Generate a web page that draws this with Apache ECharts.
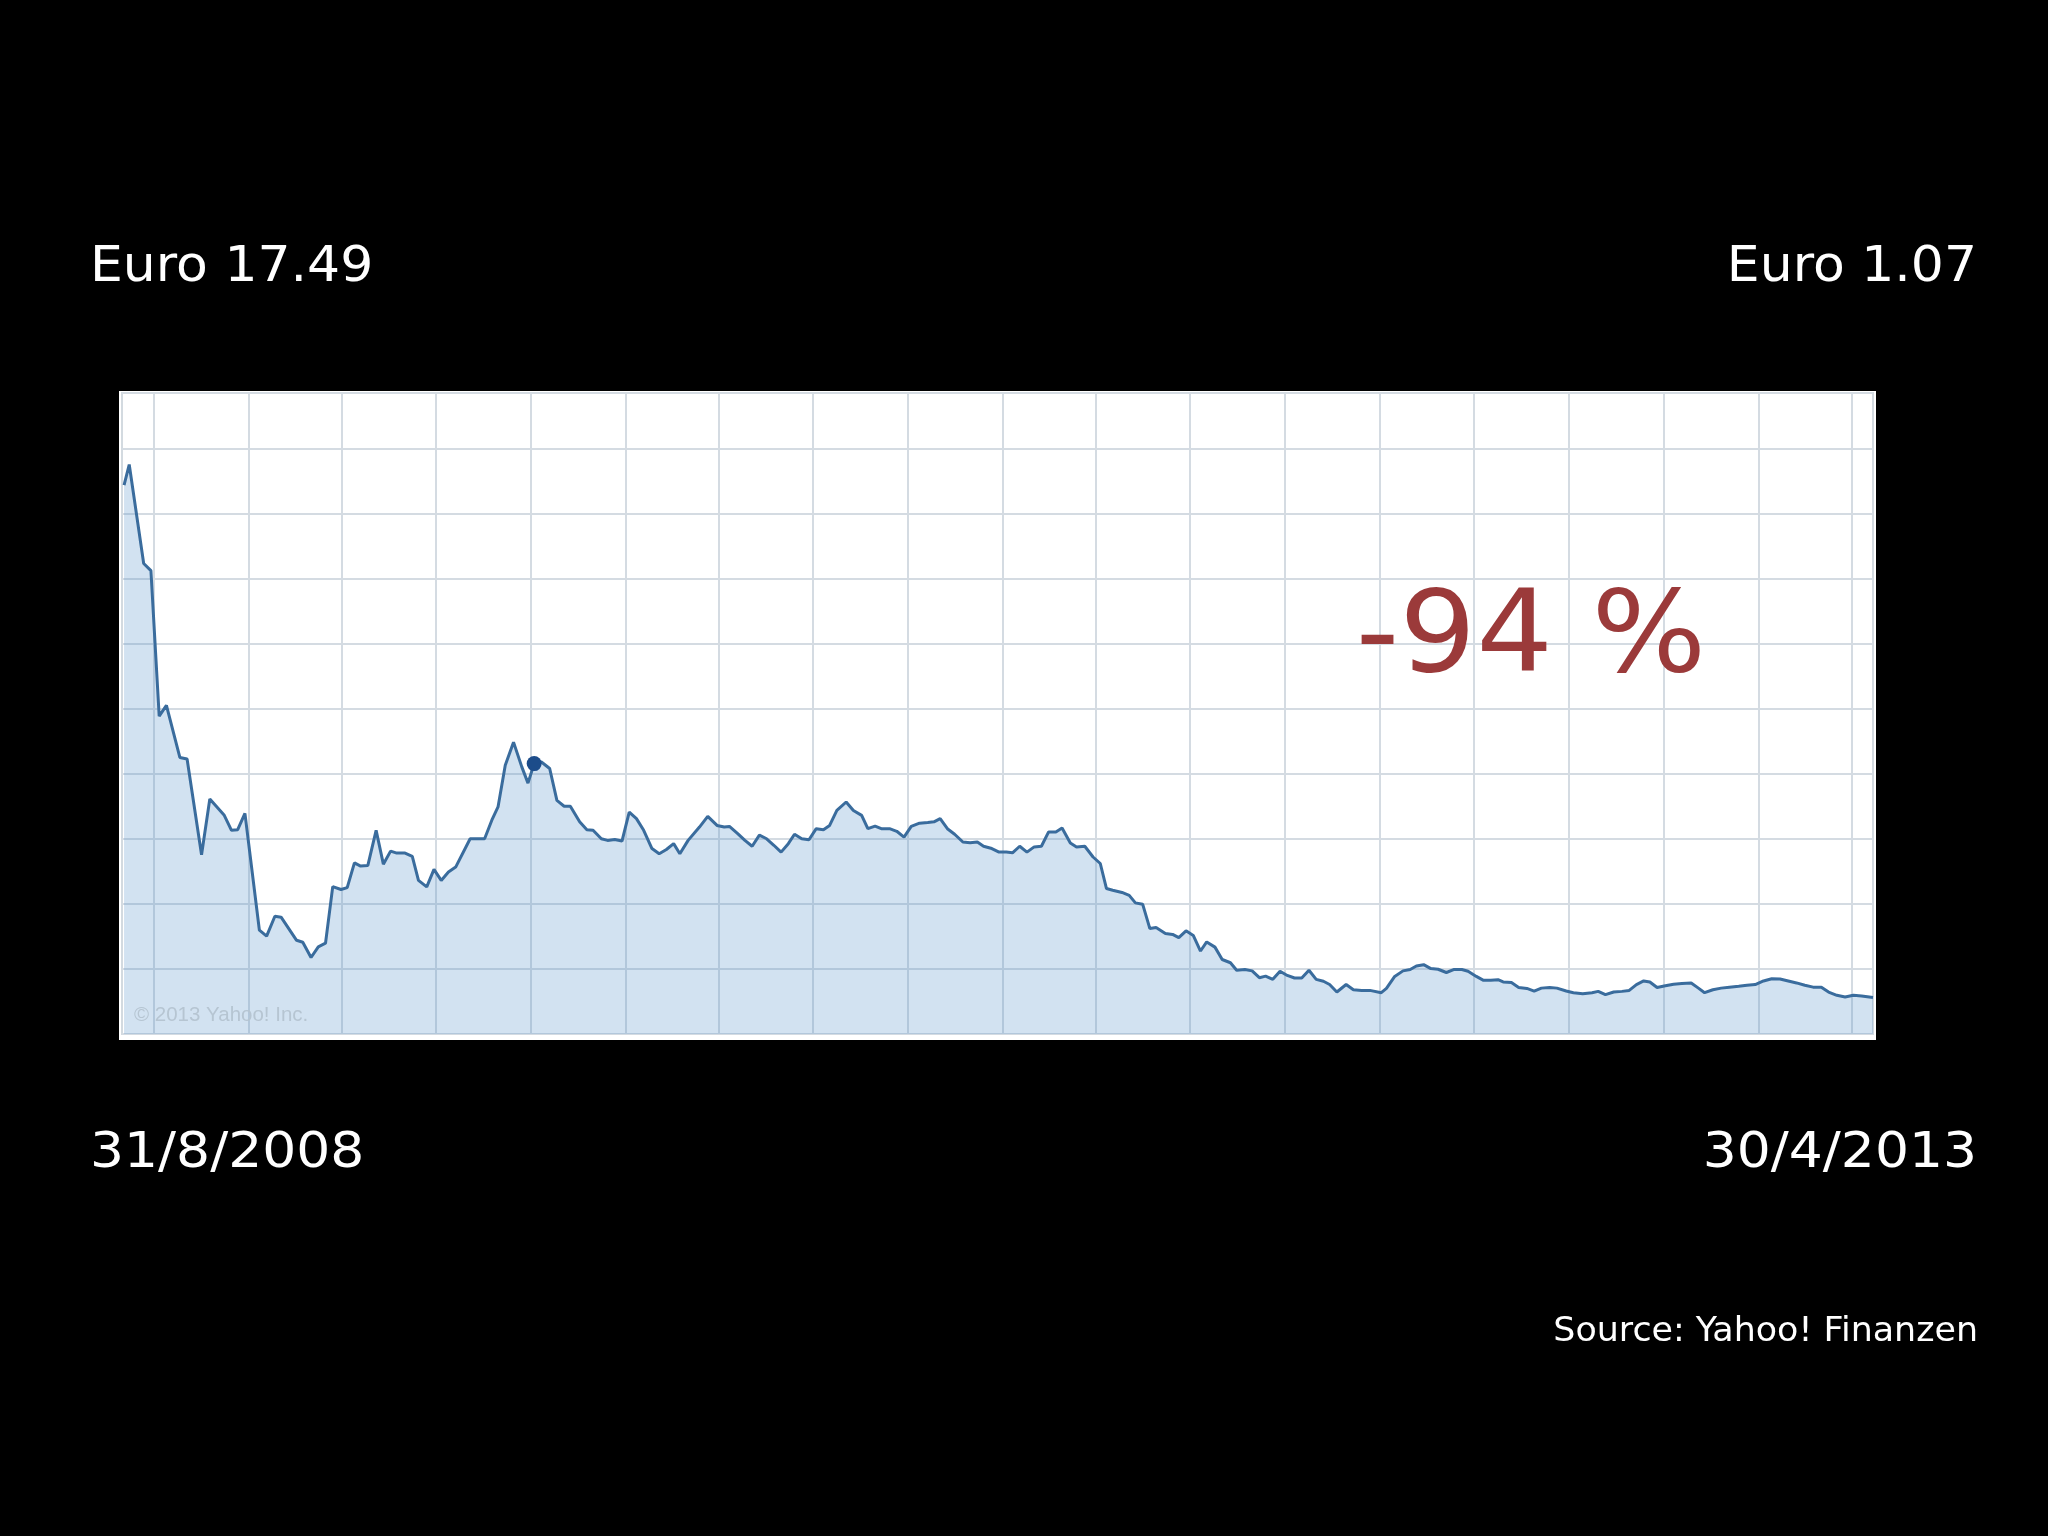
<!DOCTYPE html>
<html>
<head>
<meta charset="utf-8">
<script src="https://cdn.jsdelivr.net/npm/echarts@6/dist/echarts.min.js"></script>
<style>
html,body{margin:0;padding:0;background:#000;}
#chart{width:2048px;height:1536px;}
</style>
</head>
<body>
<div id="chart"></div>
<script>
// Days since 31/8/2008 for each weekly-ish price point
const days = [2,7,21,28,36,43,56,63,77,85,
  99,106,112,119,133,140,148,154,169,175,
  183,190,197,204,212,218,225,231,238,246,
  253,260,266,274,281,287,295,302,309,316,
  323,337,351,358,364,371,379,387,393,399,
  406,414,421,428,434,443,450,456,464,470,
  477,484,491,498,505,513,520,527,534,540,
  548,559,567,576,583,588,596,603,610,617,
  624,631,638,645,651,658,665,672,679,685,
  692,701,708,716,722,729,735,743,750,757,
  764,772,780,786,792,799,806,814,821,828,
  834,842,849,856,862,869,876,883,890,897,
  904,910,918,924,932,940,947,953,959,968,
  975,981,988,995,1001,1010,1017,1023,1030,1037,
  1044,1050,1058,1065,1073,1079,1087,1094,1101,1107,
  1114,1121,1128,1135,1142,1149,1156,1163,1169,1176,
  1185,1192,1200,1208,1219,1224,1232,1240,1247,1253,
  1260,1267,1274,1282,1289,1297,1303,1311,1318,1325,
  1332,1337,1345,1352,1360,1367,1374,1382,1389,1398,
  1405,1414,1423,1429,1436,1444,1452,1459,1466,1473,
  1479,1486,1494,1502,1510,1519,1526,1532,1540,1548,
  1556,1565,1573,1581,1589,1597,1605,1613,1621,1629,
  1637,1645,1652,1660,1668,1676,1684,1695];

// Share price in Euro
const prices = [16.87,17.50,14.46,14.24,9.77,10.10,8.50,8.45,5.51,7.22,
  6.72,6.26,6.28,6.78,3.19,3.01,3.62,3.59,2.88,2.82,
  2.35,2.68,2.79,4.53,4.44,4.50,5.26,5.16,5.18,6.26,
  5.22,5.62,5.56,5.56,5.46,4.72,4.52,5.06,4.72,4.98,
  5.13,6.00,6.00,6.57,6.98,8.26,8.97,8.21,7.71,8.31,
  8.36,8.16,7.18,7.00,7.00,6.52,6.28,6.26,6.00,5.95,
  5.98,5.93,6.82,6.62,6.26,5.70,5.54,5.67,5.85,5.54,
  5.95,6.36,6.69,6.41,6.36,6.38,6.16,5.95,5.77,6.11,
  6.00,5.80,5.59,5.85,6.14,6.00,5.97,6.31,6.28,6.41,
  6.87,7.13,6.87,6.72,6.31,6.39,6.31,6.31,6.23,6.05,
  6.38,6.48,6.50,6.52,6.62,6.31,6.14,5.90,5.88,5.90,
  5.77,5.70,5.59,5.59,5.57,5.77,5.59,5.75,5.77,6.21,
  6.21,6.33,5.87,5.75,5.77,5.44,5.24,4.47,4.42,4.35,
  4.26,4.03,3.99,3.24,3.27,3.09,3.06,2.96,3.17,3.03,
  2.55,2.83,2.67,2.29,2.19,1.96,1.98,1.94,1.73,1.78,
  1.68,1.93,1.80,1.72,1.72,1.96,1.68,1.62,1.52,1.29,
  1.52,1.36,1.34,1.34,1.27,1.40,1.77,1.94,1.98,2.09,
  2.13,2.01,1.99,1.89,1.98,1.98,1.93,1.77,1.65,1.65,
  1.67,1.60,1.58,1.43,1.40,1.32,1.41,1.43,1.41,1.32,
  1.27,1.24,1.27,1.31,1.21,1.29,1.31,1.34,1.52,1.63,
  1.60,1.43,1.48,1.53,1.55,1.57,1.41,1.27,1.36,1.41,
  1.44,1.47,1.50,1.52,1.63,1.70,1.69,1.63,1.57,1.50,
  1.44,1.44,1.29,1.19,1.14,1.19,1.17,1.12];

// Quarter starts (days since 31/8/2008): Oct 2008 ... Apr 2013
const quarterDays = [31,123,213,304,396,488,578,669,761,853,943,1034,1126,1218,1309,1400,1492,1584,1674];
const highlightDay = 399;

const xMin = 0, xMax = 1695;
const yMin = 0, yMax = 19.7, yInterval = 2;

const startPrice = 'Euro 17.49';
const endPrice = 'Euro 1.07';
const startDate = '31/8/2008';
const endDate = '30/4/2013';
const changeText = '-94 %';
const sourceText = 'Source: Yahoo! Finanzen';
const watermarkText = '\u00A9 2013 Yahoo! Inc.';

const seriesData = days.map((d, i) => [d, prices[i]]);
const hi = days.indexOf(highlightDay);

const chart = echarts.init(document.getElementById('chart'), null, {renderer: 'canvas'});
const font = '"DejaVu Sans", Verdana, sans-serif';
const gridColor = '#d4dbe2';

chart.setOption({
  backgroundColor: '#000000',
  animation: false,
  grid: {left: 122, right: 175, top: 393, bottom: 502, show: true,
    borderColor: '#d3dae0', borderWidth: 2, backgroundColor: 'transparent'},
  xAxis: {type: 'value', min: xMin, max: xMax,
    axisLine: {show: false}, axisTick: {show: false}, axisLabel: {show: false}, splitLine: {show: false}},
  yAxis: {type: 'value', min: yMin, max: yMax, interval: yInterval,
    axisLine: {show: false}, axisTick: {show: false}, axisLabel: {show: false},
    splitLine: {show: true, lineStyle: {color: gridColor, width: 2}}},
  series: [
    {
      type: 'line', data: seriesData, symbol: 'none', z: 2, silent: true,
      lineStyle: {color: '#3a6c9d', width: 3},
      areaStyle: {color: 'rgba(74,140,200,0.25)', opacity: 1},
      markLine: {
        z: 1, silent: true, symbol: ['none', 'none'], animation: false,
        label: {show: false},
        lineStyle: {color: gridColor, width: 2, type: 'solid'},
        emphasis: {disabled: true},
        data: quarterDays.map(d => ({xAxis: d}))
      }
    },
    {
      type: 'scatter', z: 3, silent: true,
      data: [[days[hi], prices[hi]]],
      symbolSize: 15,
      itemStyle: {color: '#1c4c8a', opacity: 1}
    }
  ],
  graphic: [
    {type: 'rect', z: -1, silent: true, shape: {x: 119, y: 391, width: 1757, height: 649}, style: {fill: '#ffffff'}},
    {type: 'text', z: 10, left: 134, top: 1005, silent: true,
      style: {text: watermarkText, fill: '#b6c5d2', font: '20.5px "Liberation Sans", Arial, sans-serif'}},
    {type: 'text', z: 10, x: 90, y: 268, scaleX: 1.04, silent: true,
      style: {text: startPrice, fill: '#ffffff', font: '50px ' + font, align: 'left', verticalAlign: 'middle'}},
    {type: 'text', z: 10, x: 1977, y: 268, scaleX: 1.04, silent: true,
      style: {text: endPrice, fill: '#ffffff', font: '50px ' + font, align: 'right', verticalAlign: 'middle'}},
    {type: 'text', z: 10, x: 90, y: 1154, scaleX: 1.07, silent: true,
      style: {text: startDate, fill: '#ffffff', font: '50px ' + font, align: 'left', verticalAlign: 'middle'}},
    {type: 'text', z: 10, x: 1977, y: 1154, scaleX: 1.07, silent: true,
      style: {text: endDate, fill: '#ffffff', font: '50px ' + font, align: 'right', verticalAlign: 'middle'}},
    {type: 'text', z: 10, x: 1978, y: 1332, scaleX: 1.025, silent: true,
      style: {text: sourceText, fill: '#ffffff', font: '34px ' + font, align: 'right', verticalAlign: 'middle'}},
    {type: 'text', z: 10, x: 1531, y: 641, scaleX: 1.06, silent: true,
      style: {text: changeText, fill: '#9b3a3a', font: '114px ' + font, align: 'center', verticalAlign: 'middle',
        shadowColor: 'rgba(0,0,0,0.45)', shadowBlur: 5, shadowOffsetX: 3, shadowOffsetY: 4}}
  ]
});
</script>
</body>
</html>
